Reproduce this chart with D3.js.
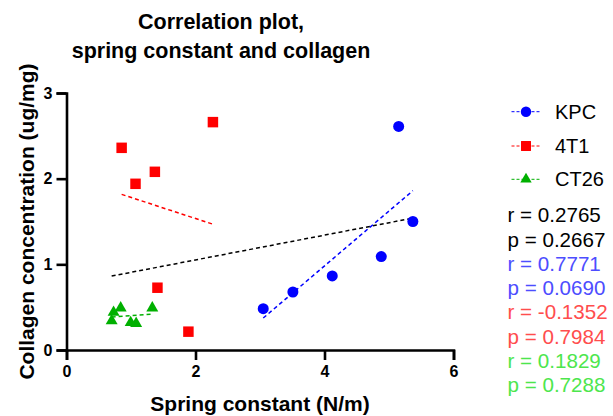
<!DOCTYPE html>
<html>
<head>
<meta charset="utf-8">
<script src="https://cdn.jsdelivr.net/npm/d3@7"></script>
<style>
  html, body { margin: 0; padding: 0; background: #fff; }
  svg { display: block; font-family: "Liberation Sans", Arial, sans-serif; }
</style>
</head>
<body>
<svg id="chart" width="613" height="416"></svg>
<script>
// Spring constant (N/m) and collagen concentration (ug/mg) per tumour model
const kpcX  = [3.05, 3.51, 4.12, 4.88, 5.37, 5.15];
const kpcY  = [0.482, 0.677, 0.864, 1.09, 1.50, 2.61];
const t41X  = [0.855, 1.07, 1.37, 2.27, 1.41, 1.89];
const t41Y  = [2.36, 1.94, 2.08, 2.66, 0.727, 0.214];
const ct26X = [0.73, 0.84, 0.70, 0.995, 1.08, 1.33];
const ct26Y = [0.44, 0.49, 0.34, 0.32, 0.31, 0.49];

const seriesNames = ["KPC", "4T1", "CT26"];
const xTicks = [0, 2, 4, 6];
const yTicks = [0, 1, 2, 3];

// Pearson statistics as reported for each fit (overall, KPC, 4T1, CT26)
const statLines = [
  "r = 0.2765", "p = 0.2667",
  "r = 0.7771", "p = 0.0690",
  "r = -0.1352", "p = 0.7984",
  "r = 0.1829", "p = 0.7288"
];

const series = [
  { name: seriesNames[0], xs: kpcX,  ys: kpcY,  color: "#0000ff", symbol: d3.symbolCircle,   size: 95 },
  { name: seriesNames[1], xs: t41X,  ys: t41Y,  color: "#ff0000", symbol: d3.symbolSquare,   size: 110 },
  { name: seriesNames[2], xs: ct26X, ys: ct26Y, color: "#00b000", symbol: d3.symbolTriangle, size: 62 }
];
const statColors = ["#000000", "#000000", "#4d4dff", "#4d4dff", "#ff4d4d", "#ff4d4d", "#4de64d", "#4de64d"];

const svg = d3.select("#chart");
const plot = { left: 66.5, top: 93, right: 453.5, bottom: 350 };

const x = d3.scaleLinear().domain([0, 6]).range([plot.left, plot.right]);
const y = d3.scaleLinear().domain([0, 3]).range([plot.bottom, plot.top]);

// Least-squares line over a set of points, spanning their x extent
function fitLine(xs, ys) {
  const n = xs.length;
  const mx = d3.mean(xs), my = d3.mean(ys);
  let sxy = 0, sxx = 0;
  for (let i = 0; i < n; i++) {
    sxy += (xs[i] - mx) * (ys[i] - my);
    sxx += (xs[i] - mx) * (xs[i] - mx);
  }
  const b = sxy / sxx, a = my - b * mx;
  const [x0, x1] = d3.extent(xs);
  return [[x0, a + b * x0], [x1, a + b * x1]];
}

const line = d3.line().x(d => x(d[0])).y(d => y(d[1]));

// Title
const title = svg.append("text")
  .attr("x", 221).attr("text-anchor", "middle")
  .attr("font-weight", "bold").attr("font-size", 21.5).attr("fill", "#000");
title.append("tspan").attr("x", 221).attr("y", 29).text("Correlation plot,");
title.append("tspan").attr("x", 221).attr("y", 58).text("spring constant and collagen");

// Axes
const xAxis = d3.axisBottom(x).tickValues(xTicks).tickSize(10).tickPadding(6).tickFormat(d3.format("d"));
const yAxis = d3.axisLeft(y).tickValues(yTicks).tickSize(10).tickPadding(4).tickFormat(d3.format("d"));

const gx = svg.append("g").attr("transform", `translate(0,${plot.bottom})`).call(xAxis);
const gy = svg.append("g").attr("transform", `translate(${plot.left},0)`).call(yAxis);
[gx, gy].forEach(g => {
  g.select(".domain").attr("stroke", "#000").attr("stroke-width", 2.6);
  g.selectAll(".tick line").attr("stroke", "#000").attr("stroke-width", 2.6);
  g.selectAll(".tick text").attr("font-size", 16).attr("font-weight", "bold")
    .attr("fill", "#000").attr("font-family", "Liberation Sans, Arial, sans-serif");
});

// Axis titles
svg.append("text")
  .attr("x", (plot.left + plot.right) / 2).attr("y", 411)
  .attr("text-anchor", "middle").attr("font-weight", "bold").attr("font-size", 21)
  .text("Spring constant (N/m)");
svg.append("text")
  .attr("transform", `translate(34,${(plot.top + plot.bottom) / 2}) rotate(-90)`)
  .attr("text-anchor", "middle").attr("font-weight", "bold").attr("font-size", 21)
  .text("Collagen concentration (ug/mg)");

// Overall fit across all models
const allX = [].concat(kpcX, t41X, ct26X);
const allY = [].concat(kpcY, t41Y, ct26Y);
svg.append("path")
  .attr("d", line(fitLine(allX, allY)))
  .attr("fill", "none").attr("stroke", "#000").attr("stroke-width", 1.5)
  .attr("stroke-dasharray", "4,3");

// Per-model fits and points
series.forEach(s => {
  svg.append("path")
    .attr("d", line(fitLine(s.xs, s.ys)))
    .attr("fill", "none").attr("stroke", s.color).attr("stroke-width", 1.5)
    .attr("stroke-dasharray", "4,3");
  const pts = s.xs.map((v, i) => [v, s.ys[i]]);
  svg.append("g").selectAll("path").data(pts).join("path")
    .attr("transform", d => `translate(${x(d[0])},${y(d[1])})`)
    .attr("d", d3.symbol().type(s.symbol).size(s.size))
    .attr("fill", s.color);
});

// Legend
const legendY = [111.7, 146, 179.3];
series.forEach((s, i) => {
  const g = svg.append("g").attr("transform", `translate(0,${legendY[i]})`);
  g.append("line").attr("x1", 511.5).attr("x2", 540.5).attr("y1", 0).attr("y2", 0)
    .attr("stroke", s.color).attr("stroke-width", 1).attr("stroke-dasharray", "3,2");
  g.append("path").attr("transform", "translate(526,0)")
    .attr("d", d3.symbol().type(s.symbol).size(s.size * 0.9)).attr("fill", s.color);
  g.append("text").attr("x", 555).attr("y", 0).attr("dy", "0.35em")
    .attr("font-size", 20).attr("fill", "#000").text(s.name);
});

// Correlation statistics
svg.append("g").selectAll("text").data(statLines).join("text")
  .attr("x", 507.5).attr("y", (d, i) => 215 + i * 24.3).attr("dy", "0.35em")
  .attr("font-size", 20.6).attr("fill", (d, i) => statColors[i])
  .text(d => d);
</script>
</body>
</html>
